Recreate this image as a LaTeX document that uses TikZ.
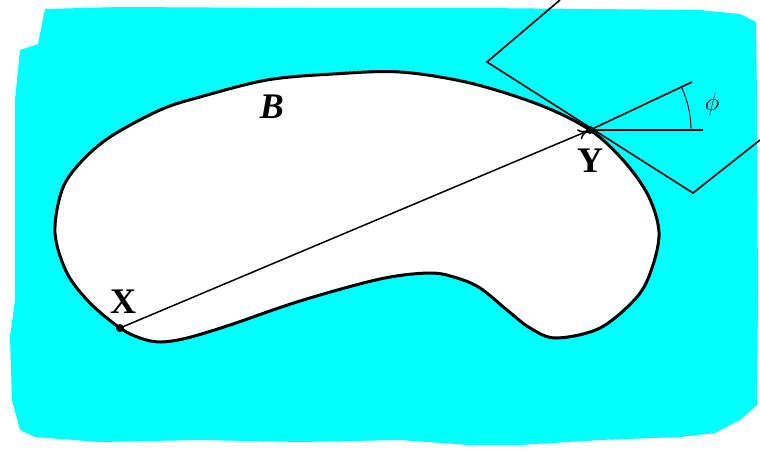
\documentclass[tikz,border=0pt]{standalone}
\usepackage{fontspec}
\setmainfont{Liberation Serif}
\usetikzlibrary{arrows.meta}
\definecolor{sea}{RGB}{0,255,255}
\tikzset{
  outline/.style={line width=3pt, black},
  thin line/.style={line width=1.6pt, black},
  dot/.style={circle, fill=black, inner sep=0pt, minimum size=8pt},
  lab/.style={font=\fontsize{36}{36}\selectfont\bfseries, inner sep=0pt},
}
\begin{document}
\begin{tikzpicture}[x=1pt,y=-1pt]
\useasboundingbox (0,0) rectangle (760,450);
% irregular cyan background
\fill[sea] (45,9) -- (120,7) -- (300,8) -- (480,8) -- (700,10) -- (740,14) -- (756,22)
  -- (757,100) -- (758,300) -- (757,405) -- (740,420) -- (715,433) -- (680,437)
  -- (600,440) -- (520,445) -- (470,445) -- (400,440) -- (300,442) -- (200,440)
  -- (100,442) -- (35,437) -- (20,430) -- (12,400) -- (10,337) -- (15,300) -- (15,100)
  -- (20,50) -- (38,44) -- cycle;
% the body B
\draw[outline, fill=white] plot[smooth cycle, tension=0.55] coordinates {
  (120,328) (90,303) (67,273) (55,233) (62,190) (80,163) (110,137) (160,110)
  (200,97) (267,80) (333,74) (400,72) (470,83) (540,105) (590,130) (623,160)
  (648,195) (659,232) (652,268) (637,297) (600,328) (556,338) (530,328)
  (507,310) (480,288) (457,278) (430,273) (380,279) (300,301) (230,325)
  (187,338) (160,342) (140,338)};
% points
\node[dot] (X) at (120,328) {};
\node[dot] (Y) at (590,130) {};
% chord with arrow
\draw[line width=1.5pt, -{To[length=10pt,width=11pt]}, shorten >=2pt] (X.center) -- (Y.center);
% tangent half-plane outline
\coordinate (T1) at (487,62);
\coordinate (T1b) at (560,0);
\coordinate (T2) at (693,193);
\coordinate (T2b) at (760,140);
\draw[thin line] (T1b) -- (T1) -- (T2) -- (T2b);
% angle lines
\coordinate (H) at (703,130);
\coordinate (U) at (692,82);
\draw[line width=2.2pt] (Y.center) -- (H);
\draw[thin line] (Y.center) -- (U);
\draw[line width=0.9pt] (Y.center) ++(-25:101) arc[start angle=-25, end angle=0, radius=101];
% labels
\node[lab] (lx) at (123,302) {X};
\node[lab] (ly) at (590,161) {Y};
\node[lab, font=\fontsize{36}{36}\selectfont\bfseries\itshape] (lb) at (272,107) {B};
\node[inner sep=0pt, font=\fontsize{34}{34}\selectfont] (phi) at (712,104) {$\phi$};
\end{tikzpicture}
\end{document}
